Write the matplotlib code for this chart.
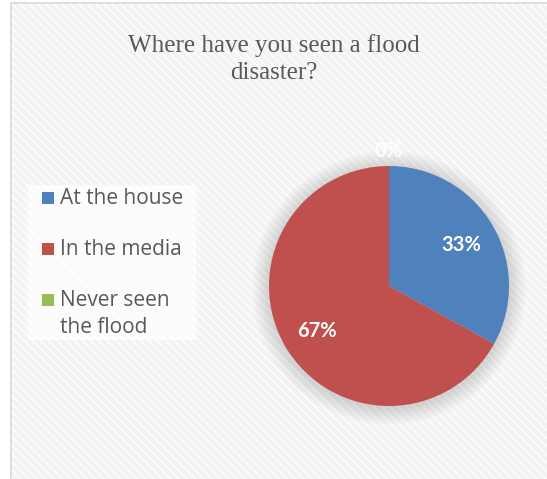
import matplotlib.pyplot as plt
import matplotlib.patches as mpatches
import numpy as np

# data
labels = ['At the house', 'In the media', 'Never seen\nthe flood']
values = [33, 67, 0]
colors = ['#4F81BD', '#C0504D', '#9BBB59']
title = 'Where have you seen a flood\ndisaster?'

W, H = 547, 479
fig = plt.figure(figsize=(W / 100, H / 100), dpi=100)
fig.patch.set_facecolor('white')

# hatched chart area background with thin grey border
bg = mpatches.Rectangle((10 / W, 0), 1 - 10 / W + 0.01, 1 - 2 / H,
                        transform=fig.transFigure, facecolor='#F3F3F3',
                        edgecolor='#FFFFFF', hatch='\\\\\\\\', linewidth=0,
                        zorder=-10)
fig.patches.append(bg)
frame = mpatches.Rectangle((10.5 / W, -0.01), 1, 1 - 2.5 / H + 0.01,
                           transform=fig.transFigure, facecolor='none',
                           edgecolor='#D9D9D9', linewidth=1.2, zorder=-9)
fig.patches.append(frame)

fig.text(0.50, 1 - 59 / H, title, ha='center', va='center',
         fontsize=18, color='#595959', family='Liberation Serif',
         linespacing=1.25)

# pie axes: center (389, 286), radius 120 px
cx, cy, r = 389, 286, 120
ax = fig.add_axes([(cx - r * 1.3) / W, 1 - (cy + r * 1.3) / H,
                   2.6 * r / W, 2.6 * r / H])

# soft shadow
for k in range(12):
    ax.add_patch(mpatches.Circle((0, -0.015), 1.0 + 0.012 * (12 - k),
                                 facecolor='#000000', alpha=0.012,
                                 linewidth=0))

wedges, texts, autotexts = ax.pie(
    values, colors=colors, startangle=90, counterclock=False,
    autopct='%d%%', pctdistance=0.7, radius=1.0,
    wedgeprops=dict(linewidth=0),
    textprops=dict(color='white', fontsize=14.5, fontweight='bold',
                   family='Lato'))
for t in autotexts:
    t.set_va('center_baseline')
# the 0% label sits above the pie
autotexts[2].set_position((0, 1.14))
ax.set_xlim(-1.3, 1.3)
ax.set_ylim(-1.3, 1.3)
ax.set_aspect('equal')
ax.axis('off')

# legend with white box, drawn by hand so the square sits on the first line
leg_ax = fig.add_axes([28 / W, 1 - 340 / H, 168 / W, 155 / H])
leg_ax.set_xlim(28, 196)
leg_ax.set_ylim(340, 185)
leg_ax.axis('off')
leg_ax.add_patch(mpatches.Rectangle((28, 185), 168, 155, facecolor='white',
                                    alpha=0.75, linewidth=0))
for i, (lab, col) in enumerate(zip(labels, colors)):
    y = 198 + 51 * i
    leg_ax.add_patch(mpatches.Rectangle((42, y - 6), 12, 12, facecolor=col,
                                        linewidth=0))
    leg_ax.text(60, y - 10, lab, ha='left', va='top', fontsize=15,
                color='#595959', family='Open Sans', linespacing=1.35)

fig.savefig('out.png', dpi=100, facecolor=fig.get_facecolor())
